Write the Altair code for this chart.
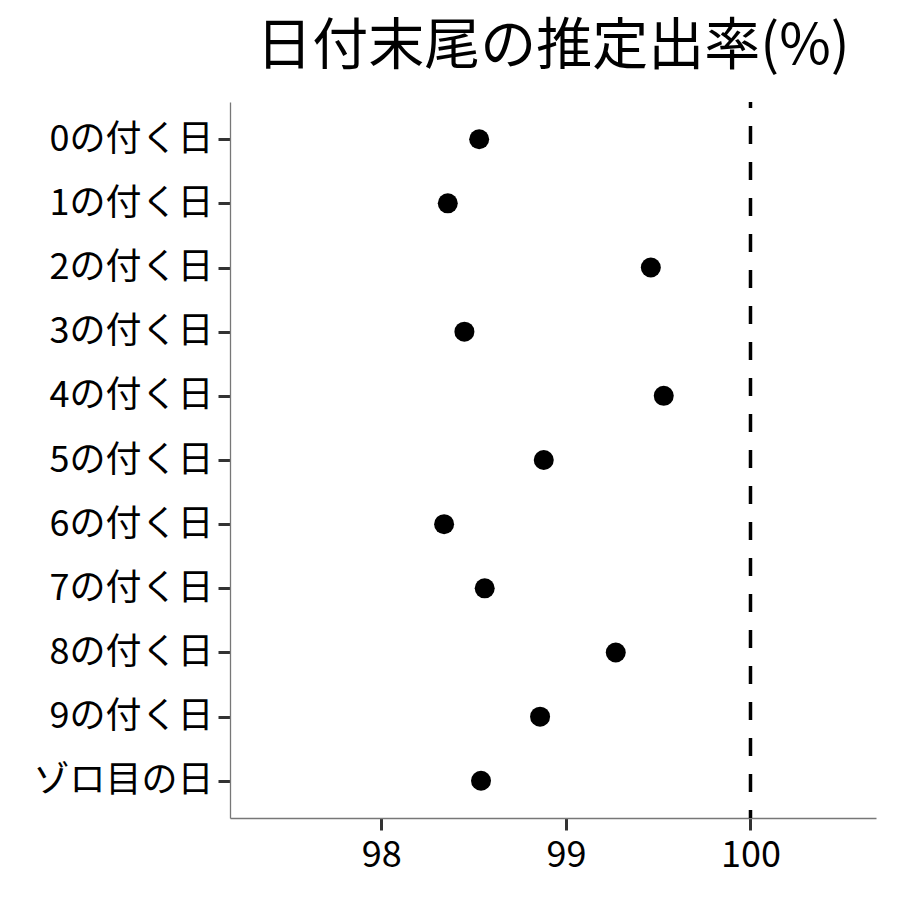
import altair as alt
import pandas as pd

categories = ["0の付く日", "1の付く日", "2の付く日", "3の付く日", "4の付く日",
              "5の付く日", "6の付く日", "7の付く日", "8の付く日", "9の付く日", "ゾロ目の日"]
values = [98.53, 98.36, 99.46, 98.45, 99.53, 98.88, 98.34, 98.56, 99.27, 98.86, 98.54]
ref_value = [100]
x_ticks = [98, 99, 100]

df = pd.DataFrame({"cat": categories, "rate": values})
ref = pd.DataFrame({"v": ref_value})

FONT = "Noto Sans CJK JP"
xscale = alt.Scale(domain=[97.18, 100.68], nice=False, zero=False)

points = alt.Chart(df).mark_circle(size=400, color="black", opacity=1).encode(
    x=alt.X("rate:Q", scale=xscale,
            axis=alt.Axis(values=x_ticks, format="d", title=None, grid=False, labelFontSize=36,
                          labelFont=FONT, labelColor="black", domainColor="#777777",
                          domainWidth=1.3, tickColor="#333333", tickWidth=3, tickSize=12,
                          labelPadding=8)),
    y=alt.Y("cat:N", sort=categories,
            scale=alt.Scale(type="point", padding=0.58),
            axis=alt.Axis(title=None, grid=False, labelFontSize=36, labelFont=FONT,
                          labelLimit=0, labelColor="black", domainColor="#777777",
                          domainWidth=1.3, tickColor="#333333", tickWidth=3, tickSize=12,
                          labelPadding=5)),
)

rule = alt.Chart(ref).mark_rule(color="black", strokeWidth=3.5, strokeDash=[18, 18],
                                strokeDashOffset=12).encode(
    x=alt.X("v:Q", scale=xscale)
)

chart = alt.layer(rule, points).properties(
    width=646, height=716,
    title=alt.TitleParams("日付末尾の推定出率(%)", fontSize=56, font=FONT,
                          fontWeight="normal", color="black", anchor="middle", offset=24),
    autosize=alt.AutoSizeParams(type="none"),
    padding={"left": 222, "top": 94, "right": 10, "bottom": 70},
    background="white",
).configure_view(strokeWidth=0, stroke=None)

chart.save("out.html", embed_options={"renderer": "svg", "actions": False})
